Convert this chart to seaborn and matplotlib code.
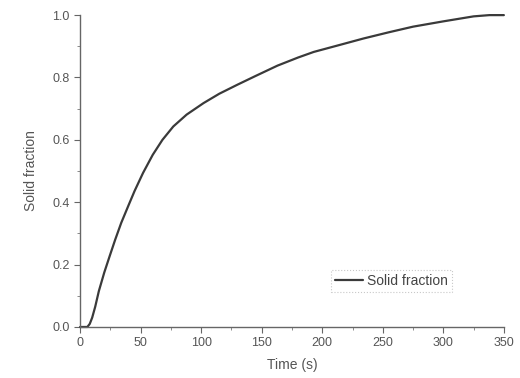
import matplotlib
matplotlib.use("Agg")
import matplotlib.pyplot as plt
import pandas as pd
import seaborn as sns
from matplotlib.ticker import MultipleLocator

# values
time_s = [0, 6, 8, 10, 12.5, 15.5, 20, 24.5, 29, 34, 40, 45, 52, 60, 68,
          77, 88, 102, 115, 130, 145, 163, 180, 193, 215, 234, 255, 275,
          300, 325, 338, 350]
solid_frac = [0.0, 0.0, 0.01, 0.03, 0.065, 0.115, 0.175, 0.228, 0.28, 0.334,
              0.39, 0.436, 0.494, 0.552, 0.60, 0.643, 0.681, 0.718, 0.748,
              0.777, 0.805, 0.838, 0.864, 0.882, 0.905, 0.925, 0.945, 0.963,
              0.98, 0.996, 1.0, 1.0]

df = pd.DataFrame({'Time (s)': time_s, 'Solid fraction': solid_frac})

sns.set_style("ticks")
plt.rcParams['font.family'] = ['Liberation Sans', 'DejaVu Sans']

fig = plt.figure(figsize=(5.2, 3.78), dpi=100)
ax = fig.add_axes([0.154, 0.135, 0.815, 0.825])

sns.lineplot(data=df, x='Time (s)', y='Solid fraction', ax=ax,
             color='#3a3a3a', linewidth=1.6, label='Solid fraction')
for ln in ax.lines:
    ln.set_clip_on(False)

ax.set_xlim(0, 350)
ax.set_ylim(0, 1.0)
ax.xaxis.set_major_locator(MultipleLocator(50))
ax.xaxis.set_minor_locator(MultipleLocator(25))
ax.yaxis.set_major_locator(MultipleLocator(0.2))
ax.yaxis.set_minor_locator(MultipleLocator(0.1))
ax.yaxis.set_major_formatter(matplotlib.ticker.FormatStrFormatter('%.1f'))

gray = '#555555'
for s in ['top', 'right']:
    ax.spines[s].set_visible(False)
for s in ['left', 'bottom']:
    ax.spines[s].set_color('#666666')
    ax.spines[s].set_linewidth(1.0)
ax.tick_params(which='major', direction='out', length=4, width=0.8,
               colors='#666666', labelcolor=gray, labelsize=9)
ax.tick_params(which='minor', direction='out', length=2, width=0.6,
               colors='#777777')

ax.set_xlabel('Time (s)', fontsize=10, color=gray, labelpad=6)
ax.set_ylabel('Solid fraction', fontsize=10, color=gray, labelpad=10)

leg = ax.legend(loc='center', bbox_to_anchor=(0.735, 0.147), fontsize=10,
                frameon=True, fancybox=False, handlelength=2.0,
                borderpad=0.3, handletextpad=0.3)
leg.get_frame().set_edgecolor('#bbbbbb')
leg.get_frame().set_linestyle(':')
leg.get_frame().set_linewidth(0.8)
for t in leg.get_texts():
    t.set_color('#444444')

fig.savefig('out.png', dpi=100)
